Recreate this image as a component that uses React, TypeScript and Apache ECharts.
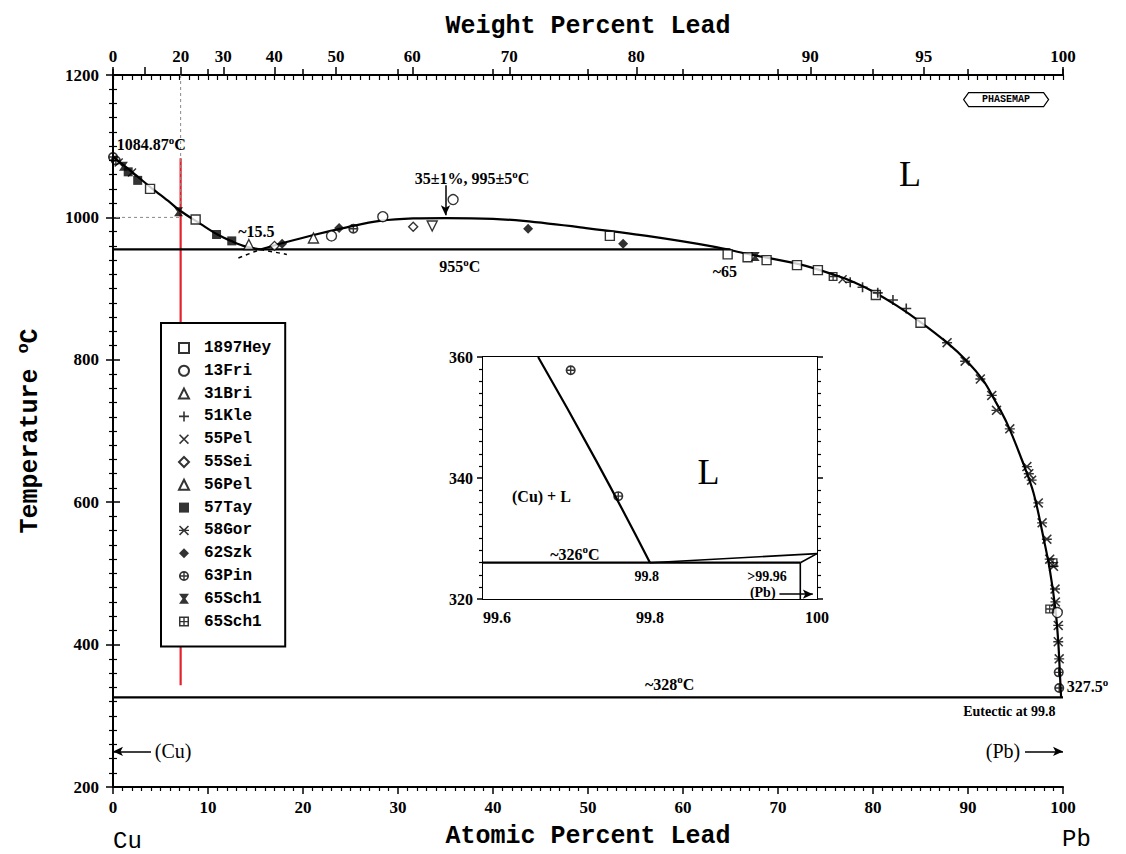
import React, { useEffect, useRef } from "react";
import * as echarts from "echarts";

// ---------- data (atomic % Pb, temperature °C) ----------
const weightTickLabels = [0, 20, 30, 40, 50, 60, 70, 80, 90, 95, 100];
const weightTickMarks = [0, 10, 20, 30, 40, 50, 60, 70, 80, 90, 95, 100];

const leftLiquidus: number[][] = [
  [0, 1084.87], [1.8, 1066], [3.9, 1043], [6, 1021], [7.1, 1009], [9.2, 991],
  [11, 976], [12.6, 966], [14, 959], [15.5, 955],
];
const domeAndLiquidus: number[][] = [
  [15.5, 955], [17.6, 963], [21, 975], [24.6, 986], [28.1, 995], [31.6, 998.5],
  [35, 999], [40, 998], [43.2, 995], [49.2, 986], [56.2, 974], [63.2, 959],
  [66.7, 949], [72.3, 934], [76, 919], [78, 909], [80, 896], [82.5, 876],
  [85, 853], [87.8, 824], [89.9, 798], [91.6, 771], [92.7, 746], [94.1, 711],
  [95.8, 655], [96.9, 613], [97.9, 553], [98.6, 506], [99.2, 450], [99.5, 404],
  [99.67, 360], [99.8, 326],
];
const domeExtension: number[][] = [[13.2, 943], [15.5, 955]];
const liquidusExtension: number[][] = [[15.5, 955], [18.3, 948]];
const monotecticLine: number[][] = [[0, 955], [65, 955]];
const eutecticLine: number[][] = [[0, 326], [100, 326]];
const redLine: number[][] = [[7.12, 343], [7.12, 1083]];
const guideLine: number[][] = [[7.12, 1200], [7.12, 1000], [0, 1000]];

const hey1897: number[][] = [[3.9, 1040], [8.7, 997], [52.3, 974], [64.7, 948], [66.8, 944], [68.8, 940], [72, 933], [74.2, 926], [80.3, 891], [85, 852]];
const fri13: number[][] = [[23, 974], [28.4, 1001], [35.8, 1025], [99.4, 445]];
const bri31: number[][] = [[14.3, 962], [21.1, 971]];
const kle51: number[][] = [[77.6, 909], [78.9, 902], [80.5, 894], [82.1, 884], [83.5, 872]];
const pel55: number[][] = [[0.6, 1077], [2, 1063], [76.8, 913]];
const sei55: number[][] = [[31.6, 987], [17, 960]];
const pel56: number[][] = [[33.6, 988]];
const tay57: number[][] = [[1.6, 1064], [2.6, 1052], [10.9, 976], [12.5, 967]];
const gor58: number[][] = [
  [87.8, 824], [89.7, 798], [91.3, 773], [92.5, 750], [93.0, 729], [94.4, 703],
  [96.2, 650], [96.4, 640], [96.7, 631], [97.4, 599], [97.8, 571], [98.3, 548],
  [98.6, 520], [99.0, 510], [99.16, 478], [99.2, 460], [99.5, 427], [99.5, 404], [99.6, 380],
];
const szk62: number[][] = [[17.8, 963], [23.8, 985], [43.7, 984], [53.7, 963]];
const pin63: number[][] = [[0, 1084.87], [0.3, 1080], [25.3, 984], [99.55, 361], [99.6, 339]];
const sch65a: number[][] = [[1.1, 1072], [6.9, 1008], [67.6, 945]];
const sch65b: number[][] = [[75.8, 917], [98.95, 515], [98.6, 450]];

// inset (enlarged Pb-rich corner)
const insetLiquidus: number[][] = [[99.666, 360], [99.735, 343], [99.8, 326]];
const insetEutectic: number[][] = [[99.6, 326], [99.98, 326]];
const insetLiquidusEnd: number[][] = [[99.8, 326], [100, 327.5]];
const insetSolidus: number[][] = [[99.98, 326], [100, 327.5]];
const insetSolvus: number[][] = [[99.98, 326], [99.98, 320]];
const insetPin63: number[][] = [[99.705, 357.8], [99.762, 337]];

const legendNames = ["1897Hey", "13Fri", "31Bri", "51Kle", "55Pel", "55Sei", "56Pel", "57Tay", "58Gor", "62Szk", "63Pin", "65Sch1", "65Sch1 "];

// ---------- helpers ----------
const M_CU = 63.546;
const M_PB = 207.2;
const wtToAt = (w: number) => (w <= 0 ? 0 : w >= 100 ? 100 : (100 * (w / M_PB)) / (w / M_PB + (100 - w) / M_CU));
const atToWt = (a: number) => (a <= 0 ? 0 : a >= 100 ? 100 : (100 * a * M_PB) / (a * M_PB + (100 - a) * M_CU));

const SERIF = '"Liberation Serif", "DejaVu Serif", serif';
const MONO = '"Liberation Mono", "DejaVu Sans Mono", monospace';

const SYM = {
  plus: "path://M4.2,0H5.8V4.2H10V5.8H5.8V10H4.2V5.8H0V4.2H4.2Z",
  cross: "path://M1.1,0L5,3.9L8.9,0L10,1.1L6.1,5L10,8.9L8.9,10L5,6.1L1.1,10L0,8.9L3.9,5L0,1.1Z",
  star: "path://M1.1,0L5,3.9L8.9,0L10,1.1L6.1,5L10,8.9L8.9,10L5,6.1L1.1,10L0,8.9L3.9,5L0,1.1Z M0,4.3H10V5.7H0Z",
  pin: "path://M5,0A5,5,0,1,1,5,10A5,5,0,1,1,5,0Z M5,1.7A3.3,3.3,0,1,0,5,8.3A3.3,3.3,0,1,0,5,1.7Z M4.3,0H5.7V10H4.3Z M0,4.3H10V5.7H0Z",
  hourglass: "path://M0,0H10L6.5,5L10,10H0L3.5,5Z",
  boxcross: "path://M0,0H10V10H0Z M1.5,1.5V8.5H8.5V1.5Z M4.3,0H5.7V10H4.3Z M0,4.3H10V5.7H0Z",
};

const openStyle = { color: "#fff", borderColor: "#000", borderWidth: 1.4 };
const fillStyle = { color: "#000", borderWidth: 0 };

const RICH = {
  s: { font: `bold 11px ${SERIF}`, padding: [0, 0, 10, 0] },
};

export default function App() {
  const ref = useRef<HTMLDivElement>(null);

  useEffect(() => {
    if (!ref.current) return;
    const chart = echarts.init(ref.current, undefined, { renderer: "svg" });

    const lineS = (data: number[][], extra: any = {}) => ({
      type: "line",
      data,
      symbol: "none",
      silent: true,
      xAxisIndex: 0,
      yAxisIndex: 0,
      lineStyle: { color: "#000", width: 2.2 },
      z: 3,
      ...extra,
    });
    const scat = (name: string, data: number[][], symbol: string, itemStyle: any, size = 9, extra: any = {}) => ({
      type: "scatter",
      name,
      data,
      symbol,
      symbolSize: size,
      itemStyle,
      xAxisIndex: 0,
      yAxisIndex: 0,
      z: 5,
      ...extra,
    });

    const mainNotes = [
      { x: 0.4, y: 1102, text: "1084.87{s|o}C", align: "left" },
      { x: 37.8, y: 1054, text: "35±1%, 995±5{s|o}C", align: "center" },
      { x: 15.1, y: 980, text: "~15.5", align: "center" },
      { x: 36.5, y: 931, text: "955{s|o}C", align: "center" },
      { x: 64.4, y: 924, text: "~65", align: "center" },
      { x: 58.6, y: 344, text: "~328{s|o}C", align: "center" },
      { x: 99.2, y: 306, text: "Eutectic at 99.8", align: "right", small: true },
      { x: 100.4, y: 341, text: "327.5{s|o}", align: "left" },
      { x: 4.4, y: 250, text: "(Cu)", align: "left", big: true },
      { x: 95.5, y: 250, text: "(Pb)", align: "right", big: true },
      { x: 83.9, y: 1061, text: "L", align: "center", huge: true },
    ];
    const insetNotes = [
      { x: 99.67, y: 337, text: "(Cu) + L", align: "center" },
      { x: 99.87, y: 341, text: "L", align: "center", huge: true },
      { x: 99.71, y: 327.4, text: "~326{s|o}C", align: "center" },
      { x: 99.796, y: 323.7, text: "99.8", align: "center", small: true },
      { x: 99.94, y: 323.7, text: ">99.96", align: "center", small: true },
      { x: 99.935, y: 321.1, text: "(Pb)", align: "center", small: true },
    ];
    const noteFont = (n: any) =>
      n.huge ? `36px ${SERIF}` : n.big ? `20px ${SERIF}` : n.small ? `bold 14px ${SERIF}` : `bold 16px ${SERIF}`;
    const notesSeries = (notes: any[], xi: number, yi: number) => ({
      type: "custom",
      silent: true,
      xAxisIndex: xi,
      yAxisIndex: yi,
      z: 6,
      clip: false,
      data: notes.map((n) => [n.x, n.y]),
      renderItem: (params: any, api: any) => {
        const n = notes[params.dataIndex];
        const p = api.coord([n.x, n.y]);
        return {
          type: "text",
          x: p[0],
          y: p[1],
          style: { text: n.text, fill: "#000", font: noteFont(n), align: n.align, verticalAlign: "middle", rich: RICH },
        };
      },
    });

    const arrowSeries = (xi: number, yi: number, lines: number[][][]) => ({
      type: "line",
      data: [],
      xAxisIndex: xi,
      yAxisIndex: yi,
      silent: true,
      markLine: {
        silent: true,
        symbol: ["none", "arrow"],
        symbolSize: [7, 10],
        label: { show: false },
        lineStyle: { color: "#000", width: 1.5, type: "solid" },
        data: lines.map((l) => [{ coord: l[0] }, { coord: l[1] }]),
      },
    });

    const axisLabelMain = { fontFamily: SERIF, fontWeight: "bold", fontSize: 17, color: "#000", formatter: (v: number) => String(v) };

    const option: any = {
      animation: false,
      backgroundColor: "#fff",
      grid: [
        { left: 113, right: 63, top: 75, bottom: 61 },
        { left: 483, top: 357, width: 334, height: 242, show: true, backgroundColor: "#fff", borderWidth: 0, z: 1 },
      ],
      legend: {
        data: legendNames,
        orient: "vertical",
        left: 161,
        top: 323,
        padding: [17, 14, 17, 17],
        itemWidth: 10,
        itemHeight: 10,
        itemGap: 6.8,
        borderColor: "#000",
        borderWidth: 2,
        backgroundColor: "#fff",
        selectedMode: false,
        textStyle: { fontFamily: MONO, fontWeight: "bold", fontSize: 16, color: "#000", padding: [0, 0, 0, 10] },
        z: 8,
      },
      xAxis: [
        {
          type: "value", gridIndex: 0, position: "bottom", min: 0, max: 100, interval: 10,
          name: "Atomic Percent Lead", nameLocation: "middle", nameGap: 37,
          nameTextStyle: { fontFamily: MONO, fontWeight: "bold", fontSize: 25, color: "#000" },
          axisLine: { lineStyle: { color: "#000", width: 2 } },
          axisTick: { length: 7, lineStyle: { color: "#000", width: 1.5 } },
          minorTick: { show: true, splitNumber: 10, length: 4, lineStyle: { color: "#000", width: 1.2 } },
          axisLabel: { ...axisLabelMain, margin: 12 },
          splitLine: { show: false },
        },
        {
          type: "value", gridIndex: 0, position: "top", min: 0, max: 100,
          name: "Weight Percent Lead", nameLocation: "middle", nameGap: 36,
          nameTextStyle: { fontFamily: MONO, fontWeight: "bold", fontSize: 25, color: "#000" },
          axisLine: { lineStyle: { color: "#000", width: 2 } },
          axisTick: { customValues: weightTickMarks.map(wtToAt), length: 8, lineStyle: { color: "#000", width: 1.5 } },
          axisLabel: {
            ...axisLabelMain, margin: 10,
            customValues: weightTickLabels.map(wtToAt),
            formatter: (v: number) => String(Math.round(atToWt(v))),
          },
          splitLine: { show: false },
        },
        {
          type: "value", gridIndex: 0, position: "top", min: 0, max: 100, interval: 10,
          axisLine: { show: false },
          axisTick: { length: 6, lineStyle: { color: "#000", width: 1.5 } },
          axisLabel: { show: false },
          splitLine: { show: false },
        },
        {
          type: "value", gridIndex: 0, position: "top", min: 0, max: 100, interval: 1,
          axisLine: { show: false },
          axisTick: { inside: true, length: 5, lineStyle: { color: "#000", width: 1.2 } },
          axisLabel: { show: false },
          splitLine: { show: false },
        },
        {
          type: "value", gridIndex: 1, position: "bottom", min: 99.6, max: 100, interval: 0.2,
          axisLine: { onZero: false, lineStyle: { color: "#000", width: 2 } },
          axisTick: { inside: true, length: 6, lineStyle: { color: "#000", width: 1.5 } },
          minorTick: { show: true, splitNumber: 10, length: 4, lineStyle: { color: "#000", width: 1.2 } },
          axisLabel: {
            fontFamily: SERIF, fontWeight: "bold", fontSize: 16, color: "#000", margin: 10,
            formatter: (v: number) => (Math.abs(v - 100) < 1e-6 ? "100" : v.toFixed(1)),
            alignMinLabel: "left",
          },
          splitLine: { show: false },
        },
        {
          type: "value", gridIndex: 1, position: "top", min: 99.6, max: 100, interval: 0.2,
          axisLine: { onZero: false, lineStyle: { color: "#000", width: 2 } },
          axisTick: { inside: true, length: 6, lineStyle: { color: "#000", width: 1.5 } },
          minorTick: { show: true, splitNumber: 10, length: 4, lineStyle: { color: "#000", width: 1.2 } },
          axisLabel: { show: false },
          splitLine: { show: false },
        },
      ],
      yAxis: [
        {
          type: "value", gridIndex: 0, position: "left", min: 200, max: 1200, interval: 200,
          name: "Temperature {s|o}C", nameLocation: "middle", nameGap: 67, nameRotate: 90,
          nameTextStyle: {
            fontFamily: MONO, fontWeight: "bold", fontSize: 25, color: "#000",
            rich: { s: { fontFamily: MONO, fontWeight: "bold", fontSize: 17, padding: [0, 0, 14, 0] } },
          },
          axisLine: { show: true, lineStyle: { color: "#000", width: 2 } },
          axisTick: { show: true, length: 7, lineStyle: { color: "#000", width: 1.5 } },
          minorTick: { show: true, splitNumber: 10, length: 4, lineStyle: { color: "#000", width: 1.2 } },
          axisLabel: { ...axisLabelMain, margin: 14 },
          splitLine: { show: false },
        },
        {
          type: "value", gridIndex: 0, position: "right", min: 200, max: 1200, interval: 200,
          axisLine: { show: true, lineStyle: { color: "#000", width: 2 } },
          axisTick: { show: true, length: 7, lineStyle: { color: "#000", width: 1.5 } },
          minorTick: { show: true, splitNumber: 10, length: 4, lineStyle: { color: "#000", width: 1.2 } },
          axisLabel: { show: false },
          splitLine: { show: false },
        },
        {
          type: "value", gridIndex: 1, position: "left", min: 320, max: 360, interval: 20,
          axisLine: { show: true, onZero: false, lineStyle: { color: "#000", width: 2 } },
          axisTick: { show: true, length: 6, lineStyle: { color: "#000", width: 1.5 } },
          minorTick: { show: true, splitNumber: 10, length: 4, lineStyle: { color: "#000", width: 1.2 } },
          axisLabel: { fontFamily: SERIF, fontWeight: "bold", fontSize: 16, color: "#000", margin: 10 },
          splitLine: { show: false },
        },
        {
          type: "value", gridIndex: 1, position: "right", min: 320, max: 360, interval: 20,
          axisLine: { show: true, onZero: false, lineStyle: { color: "#000", width: 2 } },
          axisTick: { show: true, length: 6, lineStyle: { color: "#000", width: 1.5 } },
          minorTick: { show: true, splitNumber: 10, length: 4, lineStyle: { color: "#000", width: 1.2 } },
          axisLabel: { show: false },
          splitLine: { show: false },
        },
      ],
      graphic: [
        { type: "text", x: 113, y: 841, style: { text: "Cu", font: `24px ${MONO}`, fill: "#000", verticalAlign: "middle" } },
        { type: "text", x: 1062, y: 839, style: { text: "Pb", font: `24px ${MONO}`, fill: "#000", verticalAlign: "middle" } },
        {
          type: "group", left: 963, top: 92, children: [
            { type: "polygon", shape: { points: [[0, 8], [5, 1], [80, 1], [85, 8], [80, 15], [5, 15]] }, style: { fill: "#fff", stroke: "#000", lineWidth: 1.2 } },
            { type: "text", x: 42.5, y: 8, style: { text: "PHASEMAP", font: `bold 10px ${MONO}`, fill: "#000", align: "center", verticalAlign: "middle" } },
          ],
        },
      ],
      series: [
        lineS(redLine, { lineStyle: { color: "#e3222b", width: 2.2 }, z: 1 }),
        lineS(guideLine, { lineStyle: { color: "#888", width: 1, type: [3, 3] }, z: 1 }),
        lineS(leftLiquidus, { smooth: 0.35 }),
        lineS(domeAndLiquidus, { smooth: 0.35 }),
        lineS(domeExtension, { lineStyle: { color: "#000", width: 1.5, type: [4, 4] } }),
        lineS(liquidusExtension, { lineStyle: { color: "#000", width: 1.5, type: [4, 4] } }),
        lineS(monotecticLine),
        lineS(eutecticLine),
        scat("1897Hey", hey1897, "rect", openStyle, 9),
        scat("13Fri", fri13, "circle", openStyle, 10),
        scat("31Bri", bri31, "triangle", openStyle, 10),
        scat("51Kle", kle51, SYM.plus, fillStyle, 10),
        scat("55Pel", pel55, SYM.cross, fillStyle, 9),
        scat("55Sei", sei55, "diamond", openStyle, 9),
        scat("56Pel", pel56, "triangle", openStyle, 10, { symbolRotate: 180 }),
        scat("57Tay", tay57, "rect", fillStyle, 9),
        scat("58Gor", gor58, SYM.star, fillStyle, 10),
        scat("62Szk", szk62, "diamond", fillStyle, 10),
        scat("63Pin", pin63, SYM.pin, fillStyle, 10),
        scat("65Sch1", sch65a, SYM.hourglass, fillStyle, 9),
        scat("65Sch1 ", sch65b, SYM.boxcross, fillStyle, 9),
        notesSeries(mainNotes, 0, 0),
        arrowSeries(0, 0, [
          [[35, 1045], [35, 1003]],
          [[4, 250], [0, 250]],
          [[96, 250], [100, 250]],
        ]),
        // inset
        lineS(insetLiquidus, { xAxisIndex: 4, yAxisIndex: 2, smooth: 0.5 }),
        lineS(insetEutectic, { xAxisIndex: 4, yAxisIndex: 2 }),
        lineS(insetLiquidusEnd, { xAxisIndex: 4, yAxisIndex: 2, lineStyle: { color: "#000", width: 1.6 } }),
        lineS(insetSolidus, { xAxisIndex: 4, yAxisIndex: 2, lineStyle: { color: "#000", width: 1.6 } }),
        lineS(insetSolvus, { xAxisIndex: 4, yAxisIndex: 2, lineStyle: { color: "#000", width: 1.6 } }),
        scat("inset63Pin", insetPin63, SYM.pin, fillStyle, 10, { xAxisIndex: 4, yAxisIndex: 2 }),
        notesSeries(insetNotes, 4, 2),
        arrowSeries(4, 2, [[[99.955, 320.8], [99.995, 320.8]]]),
      ],
    };

    chart.setOption(option);
    return () => chart.dispose();
  }, []);

  return (
    <div
      ref={ref}
      style={{ position: "fixed", left: 0, top: 0, width: 1126, height: 854, background: "#fff" }}
    />
  );
}
